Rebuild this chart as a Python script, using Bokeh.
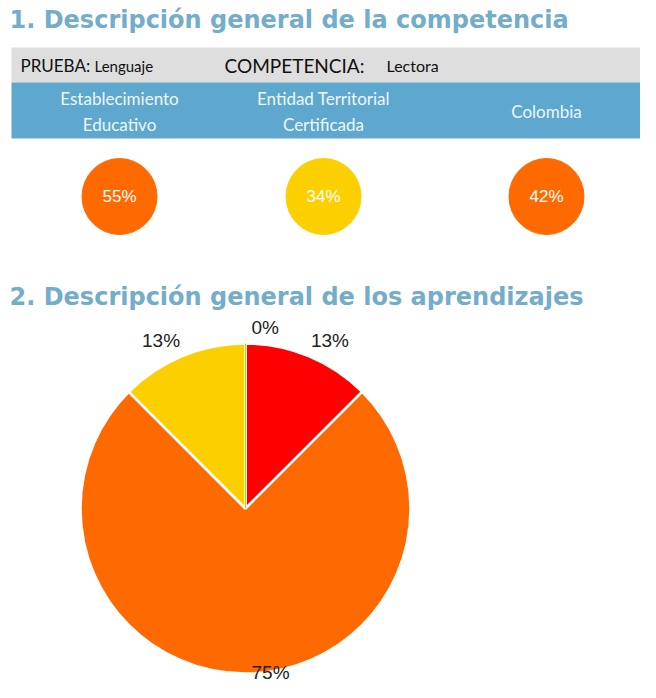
import math
from bokeh.plotting import figure
from bokeh.models import Range1d, ColumnDataSource
from bokeh.core.properties import value
from bokeh.embed import file_html
from bokeh.resources import INLINE

# ---------------- data ----------------
titulo_1 = "1. Descripción general de la competencia"
titulo_2 = "2. Descripción general de los aprendizajes"
prueba = "Lenguaje"
competencia = "Lectora"

grupos = ["Establecimiento\nEducativo", "Entidad Territorial\nCertificada", "Colombia"]
pct_competencia = [55, 34, 42]

categorias = ["Menos del 20%", "70% o más", "Entre 40% y 69%", "Entre 20% y 39%"]
pct_aprendizajes = [0, 12.5, 75, 12.5]
etiquetas_pie = ["0%", "13%", "75%", "13%"]

# ---------------- style ----------------
C_TITLE = "#74adca"
C_GRAY = "#dedede"
C_BLUE = "#5ea8cf"
C_RED = "#ff0000"
C_ORANGE = "#ff6a00"
C_YELLOW = "#fcd000"
C_GREEN = "#66b832"
colores_pie = [C_GREEN, C_RED, C_ORANGE, C_YELLOW]


def color_nivel(p):
    if p >= 70:
        return C_RED
    if p >= 40:
        return C_ORANGE
    if p >= 20:
        return C_YELLOW
    return C_GREEN


W, H = 640, 682
p = figure(width=W, height=H, x_range=Range1d(0, W), y_range=Range1d(-H, 0),
           output_backend="svg", toolbar_location=None, min_border=0)
p.axis.visible = False
p.grid.visible = False
p.outline_line_color = None
p.background_fill_color = "white"
p.border_fill_color = "white"

TFONT = value("DejaVu Sans")
LFONT = value("Liberation Sans")
GFONT = value("Lato")

# Section 1 title
p.text(x=[9], y=[-19], text=[titulo_1], text_font=TFONT, text_font_size="24px",
       text_font_style="bold", text_color=C_TITLE, text_baseline="middle", text_align="left")

# gray band
p.quad(left=[11], right=[651], top=[-47], bottom=[-82], fill_color=C_GRAY, line_color=None)
p.text(x=[20], y=[-65], text=["PRUEBA:"], text_font=GFONT, text_font_size="17px",
       text_color="#111111", text_baseline="middle")
p.text(x=[94], y=[-65], text=[prueba], text_font=GFONT, text_font_size="15px",
       text_color="#111111", text_baseline="middle")
p.text(x=[224], y=[-65], text=["COMPETENCIA:"], text_font=GFONT, text_font_size="19px",
       text_color="#111111", text_baseline="middle")
p.text(x=[386], y=[-65], text=[competencia], text_font=GFONT, text_font_size="16px",
       text_color="#111111", text_baseline="middle")

# blue band
p.quad(left=[11], right=[651], top=[-82], bottom=[-138], fill_color=C_BLUE, line_color=None)
cx = [119, 323, 546]
p.text(x=cx, y=[-111] * 3, text=grupos, text_font=GFONT, text_font_size="17px",
       text_color="#eef6fb", text_align="center", text_baseline="middle", text_line_height=1.25)

# circles
src_c = ColumnDataSource(dict(x=cx, y=[-196] * 3,
                              lab=[f"{v}%" for v in pct_competencia],
                              col=[color_nivel(v) for v in pct_competencia]))
p.ellipse(x="x", y="y", width=75, height=76, fill_color="col", line_color="col", source=src_c)
p.text(x="x", y="y", text="lab", source=src_c, text_font=LFONT, text_font_size="17px",
       text_color="white", text_align="center", text_baseline="middle")

# Section 2 title
p.text(x=[9], y=[-296], text=[titulo_2], text_font=TFONT, text_font_size="24px",
       text_font_style="bold", text_color=C_TITLE, text_baseline="middle", text_align="left")

# pie
PCX, PCY, PR = 245, -508, 165
tot = sum(pct_aprendizajes)
starts, ends, cols, lx, ly, la, lb = [], [], [], [], [], [], []
cum = 0.0
for v, c in zip(pct_aprendizajes, colores_pie):
    a0 = cum / tot
    cum += v
    a1 = cum / tot
    starts.append(math.pi / 2 - 2 * math.pi * a1)
    ends.append(math.pi / 2 - 2 * math.pi * a0)
    cols.append(c)
    mid = math.pi / 2 - math.pi * (a0 + a1)
    r = PR + 6
    cxm, sym = math.cos(mid), math.sin(mid)
    lx.append(PCX + r * cxm + (6 if abs(cxm) < 0.2 else 0))
    ly.append(PCY + r * sym if sym > 0 else -H)
    la.append("right" if cxm < -0.2 else "left")
    lb.append("bottom")

src_p = ColumnDataSource(dict(s=[s for s, v in zip(starts, pct_aprendizajes) if v > 0],
                              e=[e for e, v in zip(ends, pct_aprendizajes) if v > 0],
                              c=[c for c, v in zip(cols, pct_aprendizajes) if v > 0]))
p.wedge(x=PCX, y=PCY, radius=PR, start_angle="s", end_angle="e", fill_color="c",
        line_color="white", line_width=2.5, source=src_p)
p.segment(x0=[PCX], y0=[PCY], x1=[PCX], y1=[PCY + PR], line_color="#c8d400", line_width=1)

src_l = ColumnDataSource(dict(x=lx, y=ly, t=etiquetas_pie, a=la, b=lb))
p.text(x="x", y="y", text="t", text_align="a", text_baseline="b", source=src_l,
       text_font=LFONT, text_font_size="19px", text_color="#222222")

open("out.html", "w").write(file_html(p, INLINE))
